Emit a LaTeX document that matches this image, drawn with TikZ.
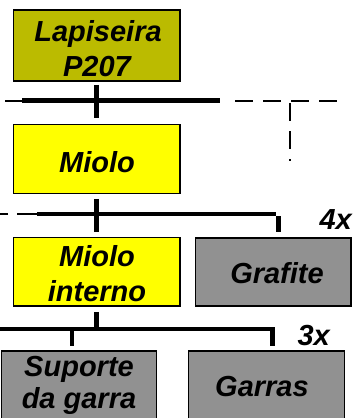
\documentclass[tikz,border=0pt]{standalone}
\usepackage{fontspec}
\setmainfont{Liberation Sans}
\usetikzlibrary{calc}
\definecolor{olivebox}{RGB}{187,187,0}
\definecolor{yellowbox}{RGB}{255,255,0}
\definecolor{graybox}{RGB}{145,145,145}
\begin{document}
\begin{tikzpicture}[x=1pt,y=-1pt,
  box/.style={draw=black,line width=1.8pt,inner sep=0pt,anchor=north west},
  lbl/.style={font=\fontsize{29}{34}\selectfont\bfseries\itshape,inner sep=0pt,anchor=base},
  qty/.style={font=\fontsize{29}{30}\selectfont\bfseries\itshape,inner sep=0pt,anchor=base east},
  bar/.style={line width=4.6pt},
  thinbar/.style={line width=2pt},
  dashline/.style={line width=2pt,dash pattern=on 18pt off 10pt}]
\useasboundingbox (0,0) rectangle (353,418);
% boxes
\node[box,fill=olivebox,minimum width=166.5pt,minimum height=71pt] (lap) at (12.5,9) {};
\node[box,fill=yellowbox,minimum width=166.5pt,minimum height=69pt] (mio) at (12.5,123.5) {};
\node[box,fill=yellowbox,minimum width=166.5pt,minimum height=68.5pt] (mint) at (12.5,236.5) {};
\node[box,fill=graybox,minimum width=155.5pt,minimum height=68pt] (graf) at (194.5,237) {};
\node[box,fill=graybox,minimum width=155pt,minimum height=71pt] (sup) at (0.5,350) {};
\node[box,fill=graybox,minimum width=156pt,minimum height=71pt] (gar) at (187.5,350) {};
% labels
\node[lbl] (t1) at (98,41.7) {Lapiseira};
\node[lbl] (t2) at (97,76.7) {P207};
\node[lbl] (t3) at (97,172.3) {Miolo};
\node[lbl] (t4) at (97,266.7) {Miolo};
\node[lbl] (t5) at (97,301.7) {interno};
\node[lbl] (t6) at (277,283.3) {Grafite};
\node[lbl] (t7) at (79,376) {Suporte};
\node[lbl] (t8) at (79,408) {da garra};
\node[lbl] (t9) at (262,396.7) {Garras};
\node[qty] (q4) at (352,229) {4x};
\node[qty] (q3) at (330,345.5) {3x};
% level 1 bar
\coordinate (b1a) at (5,100.7);
\coordinate (b1b) at (22,100.7);
\coordinate (b1c) at (220,100.7);
\coordinate (b1d) at (235,100.7);
\coordinate (b1e) at (345,100.7);
\coordinate (v1a) at (290,103);
\coordinate (v1b) at (290,161);
\draw[thinbar] (b1a) -- (b1b);
\draw[bar] (b1b) -- (b1c);
\draw[dashline] (b1d) -- (b1e);
\draw[dashline] (v1a) -- (v1b);
\draw[bar] ($(lap.south)+(0,3)$) -- ($(mio.north)+(0,-5.5)$);
% level 2 bar
\coordinate (b2a) at (0,214);
\coordinate (b2b) at (37,214);
\coordinate (b2c) at (276,214);
\coordinate (d2a) at (278.5,216);
\coordinate (d2b) at (278.5,232);
\draw[thinbar,dash pattern=on 20pt off 9pt] (b2b) -- (b2a);
\draw[bar] (b2b) -- (b2c);
\draw[bar] (d2a) -- (d2b);
\draw[bar] ($(mio.south)+(0,4.5)$) -- ($(mint.north)+(0,-4.5)$);
% level 3 bar
\coordinate (b3a) at (0,329);
\coordinate (b3b) at (274.5,329);
\coordinate (d3a) at (72,329);
\coordinate (d3b) at (72,346);
\coordinate (d3c) at (272.5,327);
\coordinate (d3d) at (272.5,346);
\draw[bar] (b3a) -- (b3b);
\draw[bar] (d3a) -- (d3b);
\draw[bar] (d3c) -- (d3d);
\draw[bar] ($(mint.south)+(0,5)$) -- ($(mint.south)+(0,24)$);
\end{tikzpicture}
\end{document}
